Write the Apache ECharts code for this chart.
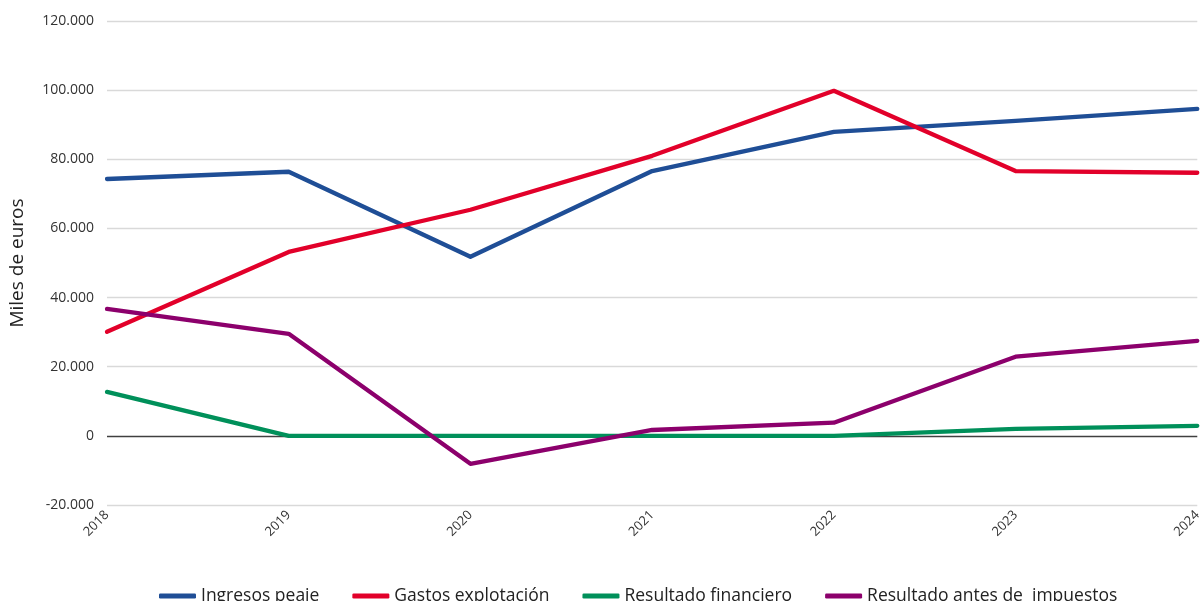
<!DOCTYPE html>
<html>
<head>
<meta charset="utf-8">
<script src="https://cdn.jsdelivr.net/npm/echarts@6/dist/echarts.min.js"></script>
<style>
  html, body { margin: 0; padding: 0; background: #fff; }
  #chart { width: 1204px; height: 601px; }
</style>
</head>
<body>
<div id="chart"></div>
<script>
// años
const years = ["2018", "2019", "2020", "2021", "2022", "2023", "2024"];
// miles de euros
const ingresosPeaje = [74300, 76400, 51800, 76600, 87900, 91100, 94600];
const gastosExplotacion = [30100, 53200, 65400, 81000, 99800, 76600, 76100];
const resultadoFinanciero = [12700, 0, 0, 0, 0, 2000, 2900];
const resultadoAntesImpuestos = [36700, 29500, -8100, 1700, 3800, 22900, 27500];

const FONT = "'Open Sans', sans-serif";

function fmt(v) {
  let s = Math.abs(v).toString().replace(/\B(?=(\d{3})+(?!\d))/g, ".");
  return (v < 0 ? "-" : "") + s;
}

var chart = echarts.init(document.getElementById("chart"));

function lineSerie(name, data, color) {
  return {
    name: name,
    type: "line",
    data: data,
    symbol: "none",
    lineStyle: { width: 4.3, color: color, cap: "round", join: "round" },
    itemStyle: { color: color },
  };
}

var option = {
  animation: false,
  textStyle: { fontFamily: FONT },
  grid: { left: 106, right: 5, top: 21, bottom: 96 },
  xAxis: {
    type: "category",
    data: years,
    boundaryGap: false,
    axisLine: { show: false },
    axisTick: { show: false },
    axisLabel: {
      rotate: 45,
      color: "#333",
      fontSize: 13,
      fontFamily: FONT,
      margin: 8,
    },
  },
  yAxis: {
    type: "value",
    min: -20000,
    max: 120000,
    interval: 20000,
    name: "Miles de euros",
    nameLocation: "middle",
    nameGap: 80,
    nameTextStyle: { fontSize: 19, color: "#222", fontFamily: FONT },
    axisLine: { show: false },
    axisTick: { show: false },
    axisLabel: {
      color: "#333",
      fontSize: 14,
      fontFamily: FONT,
      margin: 13,
      formatter: fmt,
    },
    splitLine: {
      lineStyle: {
        width: 1.3,
        color: ["#d9d9d9", "#404040", "#d9d9d9", "#d9d9d9", "#d9d9d9", "#d9d9d9", "#d9d9d9", "#d9d9d9"],
      },
    },
  },
  legend: {
    bottom: -9,
    left: 154,
    icon: "roundRect",
    itemWidth: 37,
    itemHeight: 5,
    itemGap: 33,
    textStyle: { fontSize: 17.5, color: "#222", fontFamily: FONT },
  },
  series: [
    lineSerie("Ingresos peaje", ingresosPeaje, "#1f4e96"),
    lineSerie("Gastos explotación", gastosExplotacion, "#e2002a"),
    lineSerie("Resultado financiero", resultadoFinanciero, "#00905a"),
    lineSerie("Resultado antes de  impuestos", resultadoAntesImpuestos, "#8c006c"),
  ],
};

chart.setOption(option);
</script>
</body>
</html>
